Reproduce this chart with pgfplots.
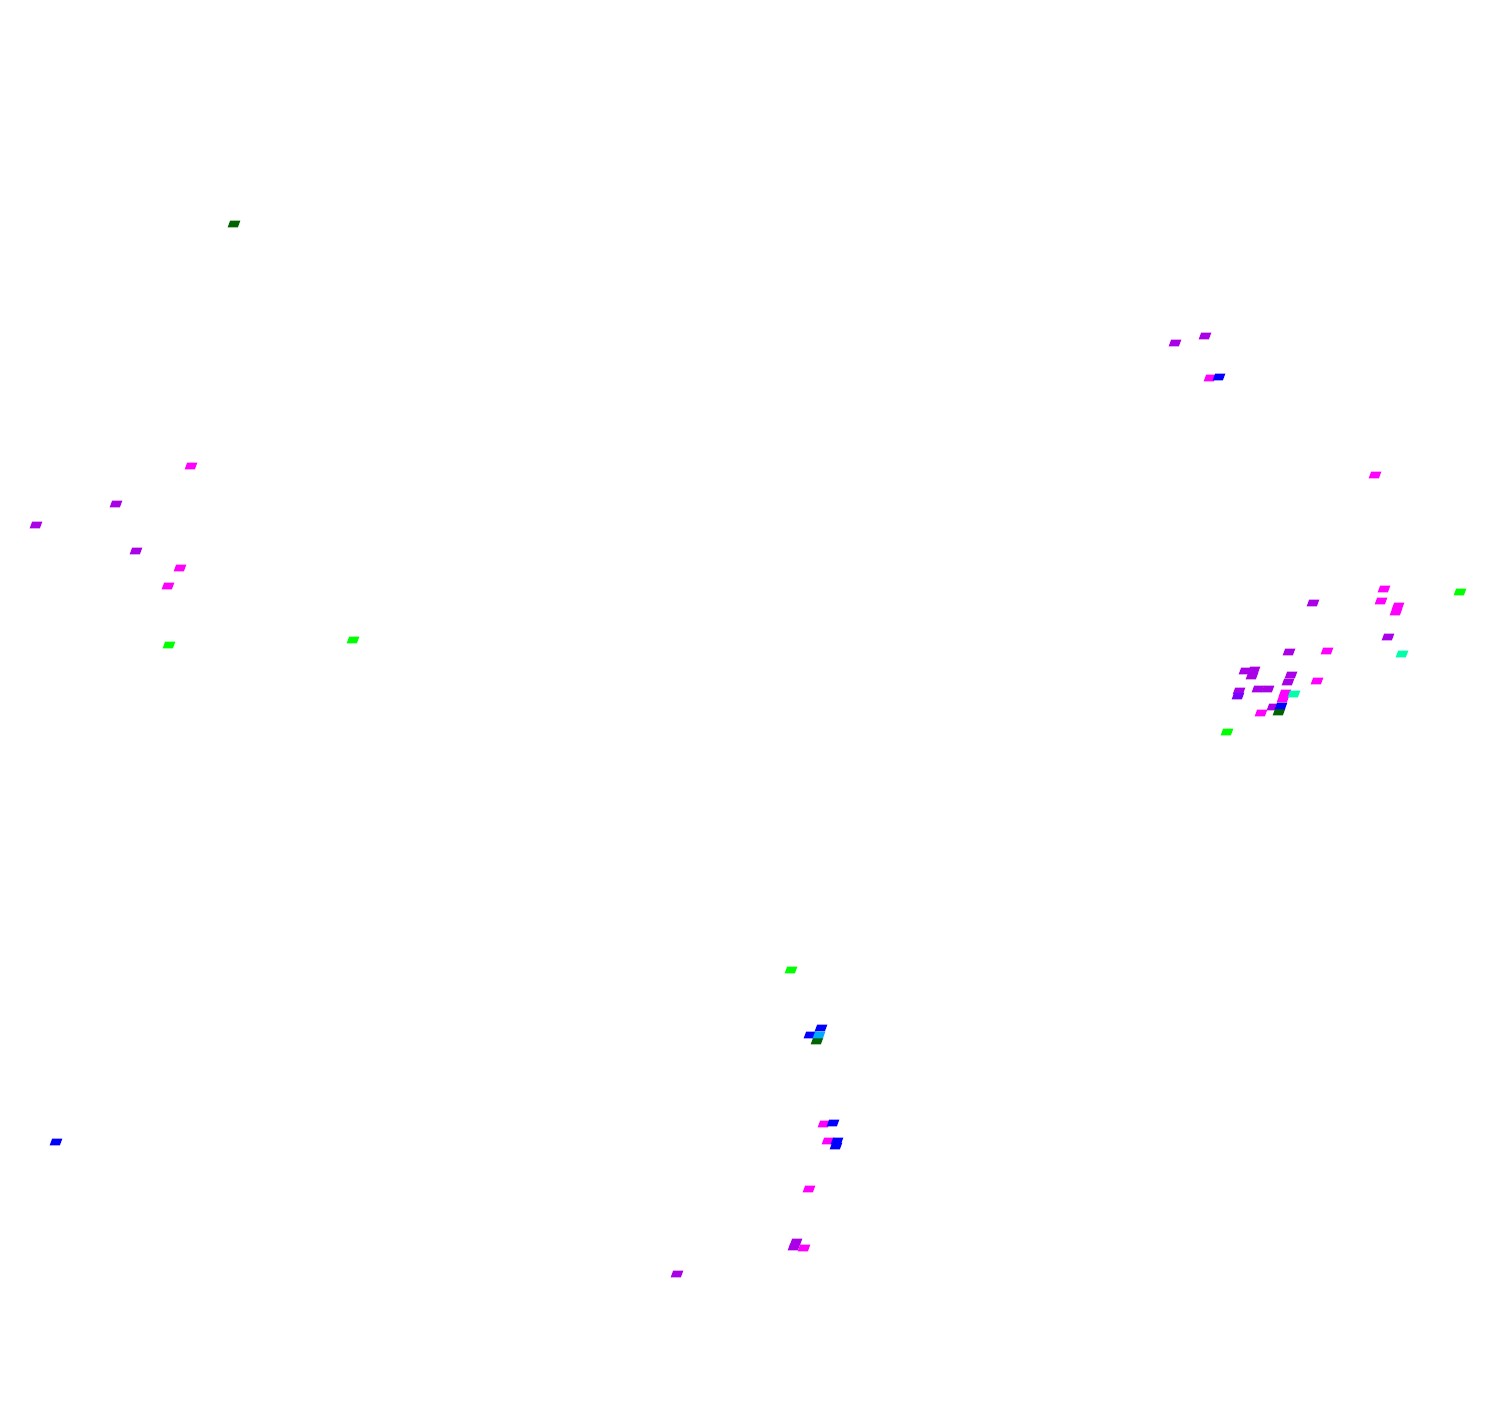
\documentclass[border=0pt]{standalone}
\usepackage{pgfplots}
\pgfplotsset{compat=1.18}
\definecolor{cpurple}{RGB}{170,0,232}
\definecolor{cmag}{RGB}{255,0,255}
\definecolor{cblue}{RGB}{0,0,255}
\definecolor{cgreen}{RGB}{0,255,0}
\definecolor{cdkgreen}{RGB}{0,100,0}
\definecolor{cteal}{RGB}{0,255,170}
\definecolor{cltblue}{RGB}{0,170,255}
\definecolor{cviolet}{RGB}{120,0,255}
\pgfdeclareplotmark{para}{%
  \pgfpathmoveto{\pgfpoint{-1.8pt}{-0.95pt}}%
  \pgfpathlineto{\pgfpoint{1.1pt}{-0.95pt}}%
  \pgfpathlineto{\pgfpoint{1.8pt}{0.95pt}}%
  \pgfpathlineto{\pgfpoint{-1.1pt}{0.95pt}}%
  \pgfpathclose\pgfusepathqfill}
\begin{document}
\begin{tikzpicture}
\begin{axis}[scale only axis, width=15cm, height=14.08cm,
  xmin=0, xmax=1500, ymin=-1408, ymax=0, hide axis, clip=false]
\path (axis cs:0,-1408) rectangle (axis cs:1500,0);
% purple
\addplot[only marks, mark=para, color=cpurple] coordinates {
(116,-504) (36,-525) (136,-551) (1175,-343) (1205,-336) (1313,-603) (1388,-637)
(1289,-652) (1245,-671) (1254,-670) (1252,-676) (1291,-675) (1288,-682)
(1258,-689) (1268,-689) (1239,-691) (1273,-707)
(796,-1242) (794,-1247) (677,-1274)
};
% violet
\addplot[only marks, mark=para, color=cviolet] coordinates {(1238,-696)};
% magenta
\addplot[only marks, mark=para, color=cmag] coordinates {
(191,-466) (180,-568) (168,-586) (1210,-378) (1375,-475) (1384,-589) (1381,-601)
(1398,-606) (1396,-612) (1327,-651) (1317,-681) (1285,-693) (1283,-699) (1261,-713)
(824,-1124) (828,-1141) (809,-1189) (804,-1248)
};
% green
\addplot[only marks, mark=para, color=cgreen] coordinates {
(169,-645) (353,-640) (1460,-592) (1227,-732) (791,-970)
};
% teal
\addplot[only marks, mark=para, color=cteal] coordinates {
(1402,-654) (1294,-694)
};
% dark green
\addplot[only marks, mark=para, color=cdkgreen] coordinates {
(234,-224) (1279,-712) (817,-1041)
};
% blue
\addplot[only marks, mark=para, color=cblue] coordinates {
(1219,-377) (1281,-706) (821,-1028) (810,-1035) (833,-1123) (837,-1141) (836,-1146) (56,-1142)
};
% light blue
\addplot[only marks, mark=para, color=cltblue] coordinates {(819,-1035)};
\end{axis}
\end{tikzpicture}
\end{document}
